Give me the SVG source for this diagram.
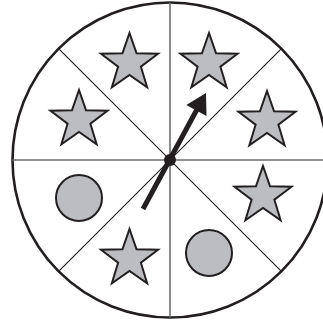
<svg xmlns="http://www.w3.org/2000/svg" width="323" height="323" viewBox="0 0 323 323">
<style>
.shape{fill:#bcbdc0;stroke:#231f20;stroke-width:2;stroke-linejoin:miter}
.main{stroke:#6d6e71;stroke-width:1.6}
.diag{stroke:#231f20;stroke-width:1.1}
</style>
<defs>
<polygon id="star" points="0,-30 7.05,-9.71 28.53,-9.27 11.41,3.71 17.63,24.27 0,12 -17.63,24.27 -11.41,3.71 -28.53,-9.27 -7.05,-9.71"/>
</defs>
<rect width="323" height="323" fill="#fff"/>
<g id="wheel">
<circle cx="170" cy="160" r="157.5" fill="#fff" stroke="#231f20" stroke-width="2.6"/>
<line class="main" x1="170" y1="2.5" x2="170" y2="317.5"/>
<line class="main" x1="12.5" y1="160" x2="327.5" y2="160"/>
<line class="diag" x1="58.6" y1="48.6" x2="281.4" y2="271.4"/>
<line class="diag" x1="281.4" y1="48.6" x2="58.6" y2="271.4"/>
</g>
<g id="star1"><use href="#star" class="shape" transform="translate(129.5,63)"/></g>
<g id="star2"><use href="#star" class="shape" transform="translate(209,63)"/></g>
<g id="star3"><use href="#star" class="shape" transform="translate(79,120)"/></g>
<g id="star4"><use href="#star" class="shape" transform="translate(267,121)"/></g>
<g id="star5"><use href="#star" class="shape" transform="translate(263,196)"/></g>
<g id="star6"><use href="#star" class="shape" transform="translate(129.5,259)"/></g>
<g id="circle1"><circle class="shape" cx="79" cy="198" r="23"/></g>
<g id="circle2"><circle class="shape" cx="209" cy="253" r="23"/></g>
<g id="pointer">
<line x1="143" y1="209" x2="198" y2="107.5" stroke="#231f20" stroke-width="5"/>
<polygon points="206,93 206.5,116 186.3,105" fill="#231f20"/>
<circle cx="170" cy="160" r="6" fill="#231f20"/>
</g>
</svg>
